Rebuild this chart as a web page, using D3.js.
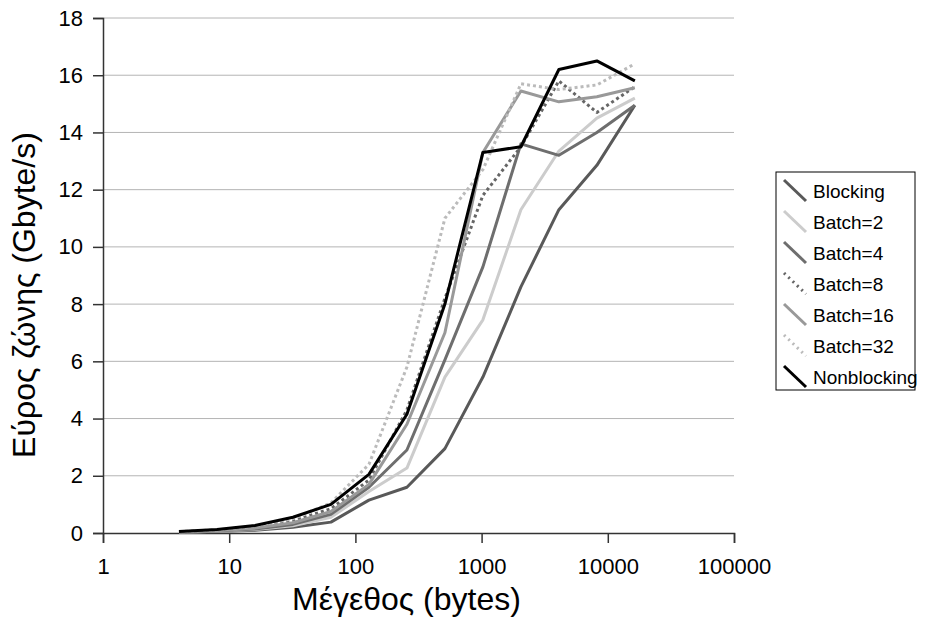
<!DOCTYPE html>
<html>
<head>
<meta charset="utf-8">
<title>Bandwidth</title>
<script src="https://cdn.jsdelivr.net/npm/d3@7"></script>
<style>
  body { margin: 0; background: #fff; }
  text { font-family: "Liberation Sans", Arial, sans-serif; }
</style>
</head>
<body>
<svg id="chart"></svg>
<script>
const sizes = [4, 8, 16, 32, 64, 128, 256, 512, 1024, 2048, 4096, 8192, 16384]

const blocking    = [0.02, 0.05, 0.1, 0.2, 0.38, 1.15, 1.6, 2.95, 5.45, 8.6, 11.3, 12.85, 14.95]
const batch2      = [0.03, 0.06, 0.12, 0.25, 0.55, 1.45, 2.27, 5.45, 7.45, 11.3, 13.35, 14.5, 15.2]
const batch4      = [0.03, 0.07, 0.14, 0.3, 0.65, 1.6, 2.9, 6.05, 9.3, 13.6, 13.2, 14.0, 14.95]
const batch8      = [0.04, 0.09, 0.2, 0.42, 0.85, 1.85, 4.3, 8.2, 11.8, 13.5, 15.8, 14.7, 15.6]
const batch16     = [0.04, 0.08, 0.17, 0.36, 0.75, 1.7, 3.8, 7.0, 13.3, 15.45, 15.07, 15.25, 15.56]
const batch32     = [0.05, 0.11, 0.24, 0.5, 1.05, 2.4, 5.8, 11.0, 12.7, 15.7, 15.5, 15.66, 16.4]
const nonblocking = [0.05, 0.12, 0.26, 0.55, 1.0, 2.05, 4.15, 8.0, 13.3, 13.5, 16.2, 16.5, 15.8]

const seriesNames = ["Blocking", "Batch=2", "Batch=4", "Batch=8", "Batch=16", "Batch=32", "Nonblocking"]
const seriesValues = [blocking, batch2, batch4, batch8, batch16, batch32, nonblocking]
const seriesColors = ["#595959", "#cccccc", "#6e6e6e", "#666666", "#999999", "#bbbbbb", "#000000"]
const seriesDashed = [false, false, false, true, false, true, false]

const xTicks = [1, 10, 100, 1000, 10000, 100000]
const yTicks = [0, 2, 4, 6, 8, 10, 12, 14, 16, 18]

const width = 938, height = 623
const margin = { left: 103, right: 204, top: 18, bottom: 90 }

const svg = d3.select("#chart")
    .attr("width", width)
    .attr("height", height)

const x = d3.scaleLog()
    .domain([1, 100000])
    .range([margin.left, width - margin.right])

const y = d3.scaleLinear()
    .domain([0, 18])
    .range([height - margin.bottom, margin.top])

// gridlines
svg.append("g")
    .selectAll("line")
    .data(yTicks.filter(d => d > 0))
    .enter()
    .append("line")
    .attr("x1", x(1))
    .attr("x2", x(100000))
    .attr("y1", d => y(d))
    .attr("y2", d => y(d))
    .attr("stroke", "#b4b4b4")
    .attr("stroke-width", 1)

// axes
const xAxis = svg.append("g")
    .attr("transform", `translate(0, ${y(0)})`)
    .call(d3.axisBottom(x).tickValues(xTicks).tickFormat(d3.format("d")).tickSizeOuter(0).tickSize(10))
xAxis.selectAll("text").attr("font-size", 22).attr("fill", "#000").attr("y", 41).attr("dy", 0)
xAxis.selectAll("line, path").attr("stroke", "#333").attr("stroke-width", 1.5)

const yAxis = svg.append("g")
    .attr("transform", `translate(${x(1)}, 0)`)
    .call(d3.axisLeft(y).tickValues(yTicks).tickSizeOuter(0).tickSize(10))
yAxis.selectAll("text").attr("font-size", 22).attr("fill", "#000").attr("x", -20)
yAxis.selectAll("line, path").attr("stroke", "#333").attr("stroke-width", 1.5)

// lines
const line = d3.line()
    .x((d, i) => x(sizes[i]))
    .y(d => y(d))

svg.append("g")
    .selectAll("path")
    .data(seriesValues)
    .enter()
    .append("path")
    .attr("d", d => line(d))
    .attr("fill", "none")
    .attr("stroke", (d, i) => seriesColors[i])
    .attr("stroke-width", 3)
    .attr("stroke-linejoin", "round")
    .attr("stroke-dasharray", (d, i) => seriesDashed[i] ? "3,3" : null)

// axis titles
svg.append("text")
    .attr("x", 292)
    .attr("y", 610)
    .attr("font-size", 32)
    .text("Μέγεθος (bytes)")

svg.append("text")
    .attr("transform", "translate(35, 295) rotate(-90)")
    .attr("text-anchor", "middle")
    .attr("font-size", 32)
    .text("Εύρος ζώνης (Gbyte/s)")

// legend
const legend = svg.append("g").attr("transform", "translate(776, 172)")
legend.append("rect")
    .attr("width", 139)
    .attr("height", 218)
    .attr("fill", "#fff")
    .attr("stroke", "#000")
    .attr("stroke-width", 1)

const items = legend.selectAll("g.item")
    .data(seriesNames)
    .enter()
    .append("g")
    .classed("item", true)
    .attr("transform", (d, i) => `translate(0, ${19 + i * 31})`)

items.append("line")
    .attr("x1", 8).attr("y1", -11)
    .attr("x2", 30).attr("y2", 10)
    .attr("stroke", (d, i) => seriesColors[i])
    .attr("stroke-width", 3)
    .attr("stroke-dasharray", (d, i) => seriesDashed[i] ? "2,4" : null)

items.append("text")
    .attr("x", 37)
    .attr("y", 7)
    .attr("font-size", 19)
    .text(d => d)
</script>
</body>
</html>
